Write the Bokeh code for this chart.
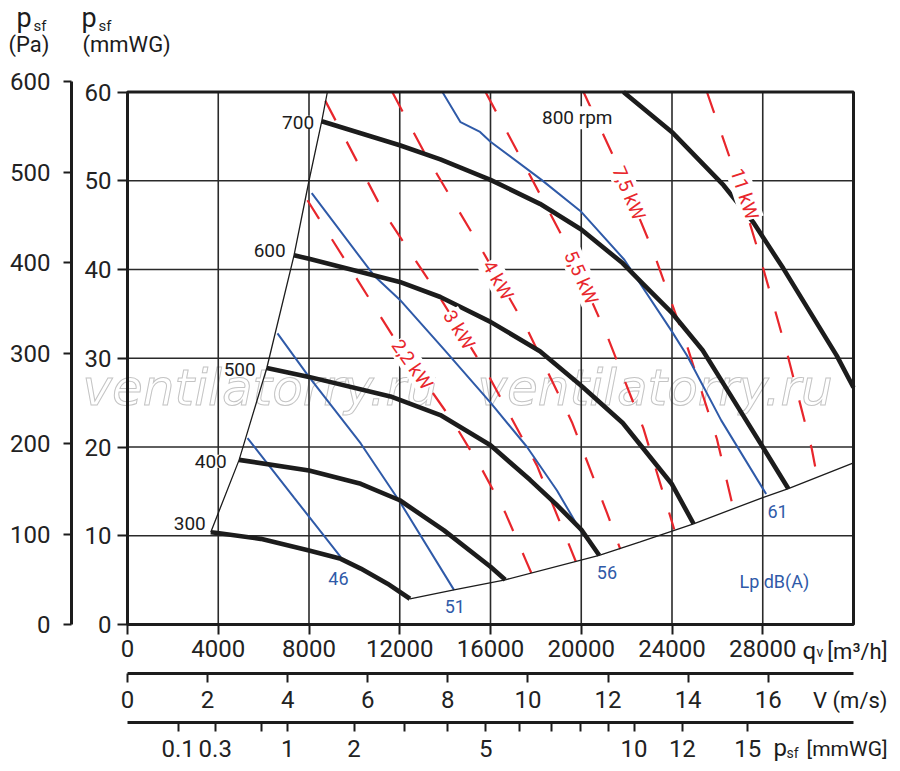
import math

from bokeh.embed import file_html
from bokeh.models import FixedTicker, Label, LinearAxis, Range1d
from bokeh.plotting import figure
from bokeh.resources import INLINE

FONT = "Roboto"
INK = "#1c1c1c"
RED = "#e8262c"
BLUE = "#2f5aa8"

W, H = 888, 768

# scales: flow q_v [m3/h], static pressure p_sf [mmWG]
Q_MAX = 32000
P_MAX = 60
PA_PER_MMWG = 9.80665
V_MAX = 18.13           # outlet velocity [m/s] at Q_MAX
PD_PER_V2 = 0.0625      # dynamic pressure [mmWG] per (m/s)^2

# where the chart box sits on the canvas (px)
BOX_L, BOX_R, BOX_B, BOX_T = 127, 853, 624, 91.5
X_PX = Q_MAX / (BOX_R - BOX_L)
Y_PX = (BOX_B - BOX_T) / P_MAX
X0 = -BOX_L * X_PX
X1 = X0 + W * X_PX
Y1 = BOX_B / Y_PX
Y0 = -(H - BOX_B) / Y_PX

qv_ticks = [0, 4000, 8000, 12000, 16000, 20000, 24000, 28000]
mm_ticks = [0, 10, 20, 30, 40, 50, 60]
pa_ticks = [0, 100, 200, 300, 400, 500, 600]
v_ticks = [0, 2, 4, 6, 8, 10, 12, 14, 16]
pd_ticks = [0.1, 0.3, 0.7, 1, 2, 3, 4, 5, 6, 7, 8, 9, 10, 12, 15]
pd_labels = ["0.1", "0.3", "", "1", "2", "", "", "5", "", "", "", "", "10", "12", "15"]

# fan curves per speed (q, p_sf)
rpm_300_q = [3670, 3965, 5870, 8000, 9400, 10280, 11460, 12450]
rpm_300_p = [10.4, 10.3, 9.65, 8.34, 7.4, 6.3, 4.6, 2.9]
rpm_400_q = [4920, 8000, 10280, 12000, 13950, 16000, 16650]
rpm_400_p = [18.55, 17.35, 15.85, 14.0, 10.6, 6.5, 5.04]
rpm_500_q = [6140, 8000, 11590, 13790, 16000, 17740, 18910, 20000, 20790]
rpm_500_p = [28.9, 27.9, 25.7, 23.6, 20.2, 16.3, 13.5, 10.7, 7.8]
rpm_600_q = [7340, 8000, 12000, 13790, 16000, 18180, 20000, 21830, 24000, 24950]
rpm_600_p = [41.6, 41.2, 38.6, 36.9, 34.1, 30.8, 26.9, 22.7, 15.8, 11.35]
rpm_700_q = [8560, 12000, 13790, 16000, 18180, 20000, 21830, 22710, 24000, 25350, 26080, 28000, 29130]
rpm_700_p = [56.7, 54.0, 52.4, 50.1, 47.4, 44.5, 40.7, 38.4, 35.1, 30.9, 27.9, 20.0, 15.3]
rpm_800_q = [21860, 23990, 26270, 27590, 28910, 31260, 32000]
rpm_800_p = [60.0, 55.5, 49.5, 45.3, 40.1, 30.3, 26.7]

# working area limits
left_q = [3670, 4920, 6140, 7340, 8000, 8560, 8810]
left_p = [10.4, 18.55, 28.9, 41.6, 50.0, 56.7, 60.0]
low_q = [12450, 14390, 16650, 20790, 22600, 24950, 28000, 29130, 32000]
low_p = [2.9, 3.9, 5.04, 7.8, 9.3, 11.35, 14.3, 15.3, 18.2]

# sound pressure lines Lp dB(A)
db46_q = [5290, 7340, 9400]
db46_p = [21.0, 14.3, 7.6]
db51_q = [6610, 8000, 10280, 12010, 14390]
db51_p = [32.8, 27.9, 20.4, 13.8, 3.9]
db56_q = [8120, 10870, 12000, 13950, 16000, 17610, 18930, 19960, 20760]
db56_p = [48.6, 39.3, 36.6, 31.0, 25.0, 20.0, 15.1, 10.6, 7.9]
db61_q = [13880, 14680, 15540, 16000, 18250, 20000, 21900, 24000, 24660, 26170, 28150]
db61_p = [60.0, 56.6, 55.5, 54.4, 50.1, 46.5, 41.1, 33.0, 30.3, 23.0, 14.7]

# shaft power lines
kw22_q = [7930, 11670, 14360, 15620, 16650, 17530, 17800]
kw22_p = [47.8, 32.6, 22.8, 17.5, 12.6, 7.4, 5.8]
kw3_q = [8720, 11280, 13660, 15990, 18050, 19760]
kw3_p = [59.0, 46.5, 37.3, 27.7, 17.9, 7.1]
kw4_q = [11670, 13140, 15420, 17610, 19590, 21130, 21720]
kw4_p = [60.0, 52.9, 43.1, 33.3, 22.8, 12.6, 8.5]
kw55_q = [15780, 17310, 19370, 21130, 22740, 24100]
kw55_p = [60.0, 52.7, 42.7, 32.6, 22.1, 10.7]
kw75_q = [20100, 21500, 23180, 24660, 25980, 26720]
kw75_p = [60.0, 52.3, 42.0, 31.4, 20.9, 12.9]
kw11_q = [25540, 26640, 27880, 29060, 30160, 30400]
kw11_p = [60.0, 51.9, 41.4, 30.7, 19.8, 16.6]

rpm_curves = [(rpm_300_q, rpm_300_p), (rpm_400_q, rpm_400_p), (rpm_500_q, rpm_500_p),
              (rpm_600_q, rpm_600_p), (rpm_700_q, rpm_700_p), (rpm_800_q, rpm_800_p)]
db_curves = [(db46_q, db46_p), (db51_q, db51_p), (db56_q, db56_p), (db61_q, db61_p)]
kw_curves = [(kw22_q, kw22_p), (kw3_q, kw3_p), (kw4_q, kw4_p),
             (kw55_q, kw55_p), (kw75_q, kw75_p), (kw11_q, kw11_p)]


def px_x(x):
    return X0 + x * X_PX


def px_y(y):
    return Y1 - y / Y_PX


# the frame fills the whole canvas; axes sit at fixed locations inside it
p = figure(
    width=W,
    height=H,
    x_range=Range1d(X0, X1),
    y_range=Range1d(Y0, Y1),
    output_backend="svg",
    toolbar_location=None,
    tools="",
    min_border=0,
)
p.outline_line_color = None
p.xgrid.visible = False
p.ygrid.visible = False
p.extra_y_ranges = {"pa": Range1d(Y0 * PA_PER_MMWG, Y1 * PA_PER_MMWG)}
p.extra_x_ranges = {"v": Range1d(X0 * V_MAX / Q_MAX, X1 * V_MAX / Q_MAX)}


def style_axis(ax, tick_out, standoff):
    ax.axis_line_width = 3
    ax.axis_line_color = INK
    ax.major_tick_out = tick_out
    ax.major_tick_in = 0
    ax.minor_tick_out = 0
    ax.minor_tick_in = 0
    ax.major_tick_line_width = 2
    ax.major_tick_line_color = INK
    ax.major_label_standoff = standoff
    ax.major_label_text_font = FONT
    ax.major_label_text_font_size = "24px"
    ax.major_label_text_color = "#222222"


yax = p.yaxis[0]
yax.ticker = FixedTicker(ticks=mm_ticks)
yax.bounds = (0, P_MAX)
yax.fixed_location = 0
style_axis(yax, 10, 6)
yax.axis_line_color = None

pa_axis = LinearAxis(y_range_name="pa", ticker=FixedTicker(ticks=pa_ticks),
                     bounds=(0, 600), fixed_location=px_x(71))
style_axis(pa_axis, 8, 13)
p.add_layout(pa_axis, "left")

xax = p.xaxis[0]
xax.ticker = FixedTicker(ticks=qv_ticks)
xax.bounds = (0, Q_MAX)
xax.fixed_location = 0
style_axis(xax, 10, 5)
xax.axis_line_color = None

v_axis = LinearAxis(x_range_name="v", ticker=FixedTicker(ticks=v_ticks),
                    bounds=(0, V_MAX), fixed_location=px_y(672.5))
style_axis(v_axis, 9, 9)
p.add_layout(v_axis, "below")

pd_pos = [round(math.sqrt(t / PD_PER_V2), 6) for t in pd_ticks]
pd_axis = LinearAxis(x_range_name="v", ticker=FixedTicker(ticks=pd_pos),
                     bounds=(0, V_MAX), fixed_location=px_y(722))
pd_axis.major_label_overrides = dict(zip(pd_pos, pd_labels))
style_axis(pd_axis, 9, 8)
p.add_layout(pd_axis, "below")


def label(x, y, text, size, color=INK, align="left", baseline="middle",
          angle=0, bg=None, **kw):
    p.add_layout(Label(
        x=x, y=y, text=text, text_font=kw.pop("font", FONT),
        text_font_size=f"{size}px", text_color=color, text_align=align,
        text_baseline=baseline, angle=angle, angle_units="deg",
        background_fill_color=bg, **kw,
    ))


def clabel(x, y, text, size, **kw):
    # text placed by canvas pixels (left/right edge, vertical middle)
    label(px_x(x), px_y(y), text, size, **kw)


# watermark behind everything
for wx in [82, 477]:
    clabel(wx, 387, "ventilatorry.ru", 50, color="white", font="DejaVu Sans",
           text_font_style="italic", text_outline_color="#c4c4c4", level="underlay")

# grid
gx = qv_ticks[1:]
gy = mm_ticks[1:-1]
p.segment(x0=gx, y0=[0] * len(gx), x1=gx, y1=[P_MAX] * len(gx),
          line_color="#2a2a2a", line_width=1.6)
p.segment(x0=[0] * len(gy), y0=gy, x1=[Q_MAX] * len(gy), y1=gy,
          line_color="#2a2a2a", line_width=1.6)

for q, ps in kw_curves:
    p.line(q, ps, line_color=RED, line_width=2.2, line_dash="22 24")
for q, ps in db_curves:
    p.line(q, ps, line_color=BLUE, line_width=2)
p.line(left_q, left_p, line_color=INK, line_width=1.3)
p.line(low_q, low_p, line_color=INK, line_width=1.3)
for q, ps in rpm_curves:
    p.line(q, ps, line_color=INK, line_width=4.6, line_join="round")

# chart box
p.quad(left=[0], right=[Q_MAX], bottom=[0], top=[P_MAX], fill_color=None,
       line_color=INK, line_width=3)

# speed labels
for x, y, t in [(8224, 56.6, "700"), (6973, 42.1, "600"), (5652, 28.75, "500"),
                (4374, 18.4, "400"), (3449, 11.35, "300")]:
    label(x, y, t, 19, align="right", bg="white")
label(18268, 57.1, "800 rpm", 19, bg="white")

# power labels
for x, y, a, t in [(12550, 29.3, -55, "2,2 kW"), (14620, 33.2, -58, "3 kW"),
                   (16330, 38.8, -60, "4 kW"), (20000, 39.1, -66, "5,5 kW"),
                   (22100, 48.6, -67, "7,5 kW"), (27200, 48.5, -72, "11 kW")]:
    label(x, y, t, 19, color=RED, align="center", angle=a, bg="white")

# sound labels
for x, y, t in [(9295, 5.15, "46"), (14426, 2.05, "51"),
                (21131, 5.9, "56"), (28655, 12.75, "61")]:
    label(x, y, t, 18, color=BLUE, align="center")
label(26973, 4.9, "Lp dB(A)", 18, color=BLUE)

# axis titles, top left
clabel(16, 17.5, "p", 27)
clabel(33, 25.5, "sf", 15)
clabel(8, 44, "(Pa)", 22)
clabel(81, 17.5, "p", 27)
clabel(98, 25.5, "sf", 15)
clabel(82, 44, "(mmWG)", 22)

# axis titles, bottom right
clabel(802, 650.5, "q", 24)
clabel(816, 651, "v", 14)
clabel(887, 650.5, "[m³/h]", 22, align="right")
clabel(887, 700, "V (m/s)", 22, align="right")
clabel(773, 747.5, "p", 24)
clabel(786, 752, "sf", 14)
clabel(887, 748, "[mmWG]", 21, align="right")

open("out.html", "w").write(file_html(p, INLINE))
